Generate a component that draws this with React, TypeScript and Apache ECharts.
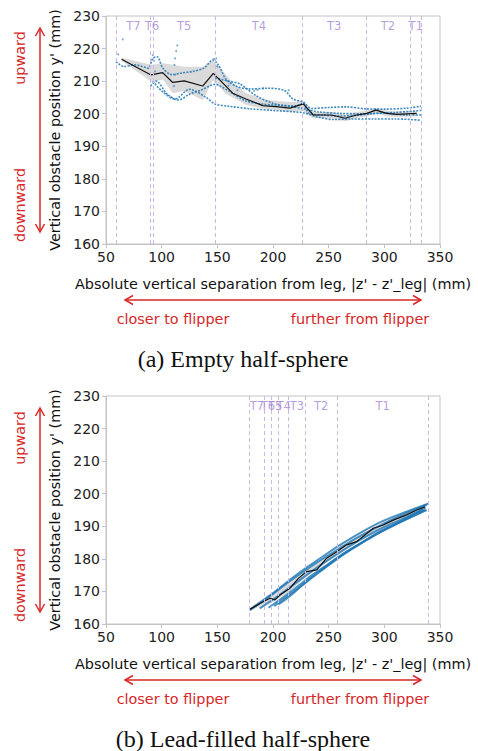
import React, { useEffect, useRef } from "react";
import * as echarts from "echarts";

// ---------- axes ----------
const X_MIN = 50, X_MAX = 350, X_STEP = 50;
const Y_MIN = 160, Y_MAX = 230, Y_STEP = 10;
const X_TITLE = "Absolute vertical separation from leg, |z' - z'_leg| (mm)";
const Y_TITLE = "Vertical obstacle position y' (mm)";
const CAPTIONS = ["(a) Empty half-sphere", "(b) Lead-filled half-sphere"];
const DIR_LABELS = ["closer to flipper", "further from flipper"];
const VERT_LABELS = ["upward", "downward"];

// ---------- phases ----------
const PHASE_NAMES = ["T7", "T6", "T5", "T4", "T3", "T2", "T1"];
const PHASE_LABEL_Y = 227;
const A_BOUNDS = [59.3, 90, 92.5, 148, 226.5, 283.5, 323, 333.5];
const B_BOUNDS = [178.7, 192.2, 198.8, 205.1, 214.1, 228.7, 257.8, 339];

// ---------- (a) empty half-sphere ----------
const A_MEAN = [
  [64, 216.7], [90.4, 211.9], [100.9, 212.6], [109.9, 209.6], [120.3, 210.1],
  [136.8, 208.5], [146.4, 212.4], [163.8, 206.3], [175.7, 204.5], [190.7, 202.5],
  [202.7, 202.2], [215.3, 201.7], [227.2, 203], [236.2, 199.6], [252.7, 199.6],
  [264.7, 198.6], [275.2, 199.6], [284.2, 200.1], [292.5, 201.1], [302.1, 200.1],
  [311.1, 199.8], [329.1, 200.1],
];
const A_BAND_X = [64, 91, 101, 110, 120, 137, 146, 158, 164, 176, 191, 203, 215, 227, 236, 253, 265, 275, 284, 292, 302, 311, 329];
const A_BAND_HI = [217.2, 215, 215.5, 215, 214.4, 214.4, 216.5, 211.9, 209.5, 206.3, 204.5, 203.9, 203.6, 203.8, 200.5, 200.5, 199.6, 200.5, 200.9, 201.8, 201, 200.6, 201];
const A_BAND_LO = [216.2, 209.8, 210.5, 206.3, 207, 204.2, 210.3, 206, 205, 202.7, 201.5, 201.2, 200.5, 200.8, 198.6, 198.6, 197.7, 198.7, 199.2, 200.2, 199.2, 199, 199.2];
const A_TRAJ_1 = [
  [59, 216], [66, 214.5], [76, 215], [88, 214], [92, 217], [96, 217.5], [101, 214], [109, 212],
  [118, 212.5], [128, 213], [138, 214], [146, 216.5], [151, 215], [158, 210.5], [168, 208.3],
  [180, 207.6], [195, 207.8], [210, 207.2], [218, 204.5], [227, 203.6], [235, 201.6], [250, 201.9],
  [265, 202.1], [283, 201.5], [300, 201.4], [320, 201.7], [333, 202.3],
];
const A_TRAJ_2 = [
  [90, 208.5], [95, 210], [105, 206], [115, 204.2], [125, 206], [135, 207.2], [148, 209],
  [160, 207], [175, 204], [190, 203], [205, 202.6], [220, 202.4], [227, 203.2], [232, 200.2],
  [245, 199.6], [260, 199.3], [275, 199.5], [290, 200], [310, 200.4], [333, 201],
];
const A_TRAJ_3 = [
  [92, 210], [100, 207], [112, 204.5], [125, 207.5], [140, 205], [148, 203], [160, 202.3],
  [180, 201.5], [200, 201], [227, 200.3], [240, 199], [255, 198.2], [270, 198.4], [290, 198.4],
  [310, 198.4], [333, 198],
];
const A_TRAJ_4 = [
  [148, 211], [160, 210], [170, 209.2], [185, 205.5], [200, 203.2], [215, 202.2], [227, 201.6],
  [240, 200.6], [260, 200.1], [283, 200], [300, 200.2], [320, 199.6], [333, 199.6],
];
const A_STRAY = [
  [65, 222.8], [61, 218.2], [92, 218], [93, 216.2], [94, 213], [114, 221], [113, 219.2], [112, 217],
  [111.5, 215], [112, 212], [111, 208.5], [160, 208.6], [168, 207.2], [183, 207], [186, 207.3],
  [191, 207.8], [214, 207.2], [150, 214.5], [147, 216.8], [149, 217],
];

// ---------- (b) lead-filled half-sphere ----------
const B_MEAN = [
  [179.3, 164.5], [188.3, 166.3], [197.3, 167.9], [201.8, 167.4], [206.3, 168.9], [215.3, 171],
  [222.8, 174], [230.3, 176.1], [239.3, 176.6], [248.2, 180.2], [257.2, 182.2], [266.2, 184.3],
  [275.2, 185.3], [284.2, 187.8], [290.1, 189.4], [299.1, 190.4], [308.1, 191.9], [320.1, 193.5],
  [329.1, 195], [336.5, 196],
];
const B_BAND_X = [179, 190, 200, 215, 230, 245, 260, 280, 300, 320, 337];
const B_BAND_HI = [165, 167.6, 169.3, 172.6, 176.6, 180.2, 183.7, 187.8, 191.4, 194.3, 196.7];
const B_BAND_LO = [164, 165.6, 166.8, 170, 174.6, 178.2, 181.7, 185.8, 189.5, 192.6, 195.2];
const B_TRAJ_1 = [[179, 164.2], [190, 167], [200, 169.5], [215, 173.5], [230, 177.3], [245, 180.8], [260, 184.2], [280, 188.3], [300, 191.8], [320, 194.5], [340, 197]];
const B_TRAJ_2 = [[180, 164.5], [195, 168], [210, 171.8], [225, 175.5], [240, 179], [258, 182.8], [275, 186.4], [295, 190], [315, 193.3], [338, 196.6]];
const B_TRAJ_3 = [[188, 164.8], [200, 167.5], [215, 171.2], [230, 175], [245, 178.6], [260, 182], [280, 186.2], [300, 189.8], [320, 192.8], [337, 195.8]];
const B_TRAJ_4 = [[196, 165], [205, 167.2], [220, 171], [235, 175], [250, 178.5], [265, 182], [285, 186], [305, 189.8], [325, 193], [337, 195]];
const B_TRAJ_5 = [[201, 165.5], [210, 167.8], [225, 171.5], [240, 175.5], [255, 179.3], [270, 182.8], [290, 187], [310, 190.5], [330, 193.8], [338, 195]];
const B_TRAJ_6 = [[205, 166], [215, 168.5], [228, 172.5], [243, 176.5], [258, 180.3], [275, 184], [295, 188.2], [315, 191.6], [335, 195.2]];

// ---------- styles ----------
const BLUE = "#1f77b4";
const RED = "#d62728";
const PURPLE_LINE = "#cbb8e6";
const PURPLE_TEXT = "#a585d2";
const SPINE = "#c4c4c4";
const FONT = "DejaVu Sans";
const NAME_SIZE = 14.4;
const GRID_LEFT = 106, GRID_W = 334, GRID_H = 228;
const GRID_TOPS = [16, 396];

function bandSeries(g: number, xs: number[], lo: number[], hi: number[]) {
  return {
    type: "custom",
    xAxisIndex: g,
    yAxisIndex: g,
    silent: true,
    z: 1,
    data: [[xs[0], lo[0]]],
    renderItem: (_p: any, api: any) => {
      const up = xs.map((x, i) => api.coord([x, hi[i]]));
      const dn = xs.map((x, i) => api.coord([x, lo[i]])).reverse();
      return {
        type: "polygon",
        shape: { points: up.concat(dn) },
        style: { fill: "#d4d4d4", opacity: 0.85 },
      };
    },
  };
}

function trajSeries(g: number, data: number[][], dotted: boolean) {
  return {
    type: "line",
    xAxisIndex: g,
    yAxisIndex: g,
    data,
    showSymbol: false,
    smooth: 0.3,
    silent: true,
    z: 2,
    lineStyle: dotted
      ? { color: BLUE, width: 1.6, type: [2, 1.3], opacity: 0.85 }
      : { color: BLUE, width: 2, opacity: 0.8 },
  };
}

function phaseSeries(g: number, bounds: number[]) {
  const labels = PHASE_NAMES.map((n, i) => ({
    name: n,
    value: [(bounds[i] + bounds[i + 1]) / 2, PHASE_LABEL_Y],
  }));
  return {
    type: "scatter",
    xAxisIndex: g,
    yAxisIndex: g,
    symbolSize: 1,
    silent: true,
    itemStyle: { color: "transparent" },
    data: labels,
    z: 5,
    labelLayout: { hideOverlap: false },
    label: {
      show: true,
      position: "inside",
      formatter: "{b}",
      color: PURPLE_TEXT,
      fontSize: 11.5,
      fontFamily: FONT,
    },
    markLine: {
      silent: true,
      symbol: ["none", "none"],
      label: { show: false },
      lineStyle: { type: [4, 3], color: PURPLE_LINE, width: 1 },
      data: bounds.map((v) => ({ xAxis: v })),
    },
  };
}

function meanSeries(g: number, data: number[][]) {
  return {
    type: "line",
    xAxisIndex: g,
    yAxisIndex: g,
    data,
    showSymbol: false,
    silent: true,
    z: 4,
    lineStyle: { color: "#111", width: 1.2 },
  };
}

function axisCommon() {
  return {
    axisLine: { show: true, lineStyle: { color: SPINE, width: 1 } },
    axisTick: { show: true, length: 4, lineStyle: { color: SPINE } },
    splitLine: { show: false },
    axisLabel: { color: "#222", fontSize: 14, fontFamily: FONT, margin: 6 },
    nameTextStyle: { color: "#111", fontSize: NAME_SIZE, fontFamily: FONT },
  };
}

function arrowGraphics(top: number) {
  const hy = top + GRID_H + 56;
  const x1 = 125, x2 = 421;
  const vx = 40, vy1 = top + 12, vy2 = top + 216;
  const s = { stroke: RED, lineWidth: 1.5, fill: "none" };
  const h = 4.5;
  const txt = (text: string, x: number, y: number, rot = 0) => ({
    type: "text", x, y, rotation: rot,
    style: { text, fill: RED, fontSize: NAME_SIZE, fontFamily: FONT, textAlign: "center", textVerticalAlign: "middle" },
  });
  return [
    { type: "line", shape: { x1, y1: hy, x2, y2: hy }, style: s },
    { type: "polyline", shape: { points: [[x1 + 8, hy - h], [x1, hy], [x1 + 8, hy + h]] }, style: s },
    { type: "polyline", shape: { points: [[x2 - 8, hy - h], [x2, hy], [x2 - 8, hy + h]] }, style: s },
    { type: "line", shape: { x1: vx, y1: vy1, x2: vx, y2: vy2 }, style: s },
    { type: "polyline", shape: { points: [[vx - h, vy1 + 8], [vx, vy1], [vx + h, vy1 + 8]] }, style: s },
    { type: "polyline", shape: { points: [[vx - h, vy2 - 8], [vx, vy2], [vx + h, vy2 - 8]] }, style: s },
    txt(DIR_LABELS[0], 173, top + GRID_H + 75),
    txt(DIR_LABELS[1], 360, top + GRID_H + 75),
    txt(VERT_LABELS[0], 20, top + 42, Math.PI / 2),
    txt(VERT_LABELS[1], 20, top + 189, Math.PI / 2),
  ];
}

export default function App() {
  const ref = useRef<HTMLDivElement>(null);
  useEffect(() => {
    if (!ref.current) return;
    const chart = echarts.init(ref.current, undefined, { renderer: "svg" });
    const grids = GRID_TOPS.map((t) => ({
      left: GRID_LEFT, top: t, width: GRID_W, height: GRID_H,
      show: true, borderColor: SPINE, borderWidth: 1, backgroundColor: "transparent",
    }));
    const xAxes = GRID_TOPS.map((_, g) => ({
      type: "value", gridIndex: g, min: X_MIN, max: X_MAX, interval: X_STEP,
      name: X_TITLE, nameLocation: "middle", nameGap: 33,
      ...axisCommon(),
    }));
    const yAxes = GRID_TOPS.map((_, g) => ({
      type: "value", gridIndex: g, min: Y_MIN, max: Y_MAX, interval: Y_STEP,
      name: Y_TITLE, nameLocation: "middle", nameGap: 34,
      ...axisCommon(),
    }));
    const series: any[] = [
      bandSeries(0, A_BAND_X, A_BAND_LO, A_BAND_HI),
      trajSeries(0, A_TRAJ_1, true),
      trajSeries(0, A_TRAJ_2, true),
      trajSeries(0, A_TRAJ_3, true),
      trajSeries(0, A_TRAJ_4, true),
      {
        type: "scatter", xAxisIndex: 0, yAxisIndex: 0, data: A_STRAY, symbolSize: 2,
        silent: true, itemStyle: { color: BLUE, opacity: 0.6 }, z: 2,
      },
      meanSeries(0, A_MEAN),
      phaseSeries(0, A_BOUNDS),
      bandSeries(1, B_BAND_X, B_BAND_LO, B_BAND_HI),
      trajSeries(1, B_TRAJ_1, false),
      trajSeries(1, B_TRAJ_2, false),
      trajSeries(1, B_TRAJ_3, false),
      trajSeries(1, B_TRAJ_4, false),
      trajSeries(1, B_TRAJ_5, false),
      trajSeries(1, B_TRAJ_6, false),
      meanSeries(1, B_MEAN),
      phaseSeries(1, B_BOUNDS),
    ];
    const graphics: any[] = [];
    GRID_TOPS.forEach((t, i) => {
      graphics.push(...arrowGraphics(t));
      graphics.push({
        type: "text", x: 243, y: t + GRID_H + 115,
        style: {
          text: CAPTIONS[i], fill: "#111", fontSize: 24, fontFamily: "Liberation Serif",
          textAlign: "center", textVerticalAlign: "middle",
        },
      });
    });
    chart.setOption({
      animation: false,
      backgroundColor: "#ffffff",
      grid: grids,
      xAxis: xAxes,
      yAxis: yAxes,
      series,
      graphic: graphics,
    });
    return () => chart.dispose();
  }, []);
  return (
    <div
      ref={ref}
      style={{ position: "fixed", left: 0, top: 0, width: 478, height: 751, background: "#fff" }}
    />
  );
}
